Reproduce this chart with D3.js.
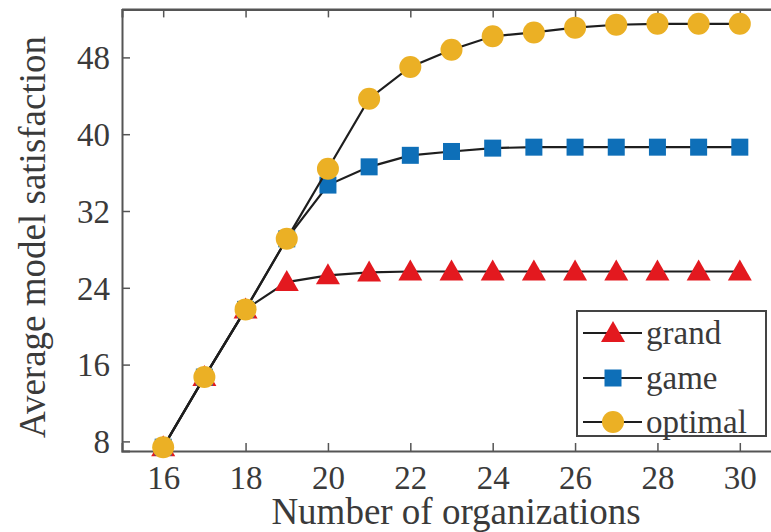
<!DOCTYPE html>
<html><head><meta charset="utf-8">
<script src="https://d3js.org/d3.v7.min.js"></script>
<style>
html,body{margin:0;padding:0;background:#fff;}
svg text{font-family:"Liberation Serif","Tinos","Times New Roman","DejaVu Serif",serif !important;}
</style></head>
<body><svg id="c" width="771" height="532"></svg>
<script>
const xValues = [16,17,18,19,20,21,22,23,24,25,26,27,28,29,30];
const grand   = [7.4,14.7,21.75,24.6,25.3,25.6,25.7,25.7,25.7,25.7,25.7,25.7,25.7,25.7,25.7];
const game    = [7.4,14.7,21.75,29.1,34.7,36.6,37.8,38.2,38.55,38.65,38.65,38.65,38.65,38.65,38.65];
const optimal = [7.4,14.7,21.75,29.1,36.4,43.7,47.0,48.8,50.2,50.6,51.1,51.4,51.5,51.5,51.5];
const xTicks = [16,18,20,22,24,26,28,30];
const yTicks = [8,16,24,32,40,48];
const seriesNames = ["grand","game","optimal"];
const seriesColors = ["#e3191f","#0e6fb8","#ebb025"];
const seriesShapes = ["triangle","square","circle"];

const FONT = "'Liberation Serif','Tinos','Times New Roman','DejaVu Serif',serif";
const svg = d3.select("#c");
const x = d3.scaleLinear().domain([15,31]).range([122,781]);
const y = d3.scaleLinear().domain([7,53]).range([451,9.4]);
const axisColor = "#555";
const textColor = "#3a3a3a";

svg.append("line").attr("x1",x(15)).attr("x2",x(31)).attr("y1",y(53)).attr("y2",y(53)).attr("stroke",axisColor).attr("stroke-width",2);

const xb = svg.append("g").attr("transform",`translate(0,${y(7)})`)
  .call(d3.axisBottom(x).tickValues(xTicks).tickSize(-8).tickPadding(14).tickFormat(d3.format("d")));
const xt = svg.append("g").attr("transform",`translate(0,${y(53)})`)
  .call(d3.axisTop(x).tickValues(xTicks).tickSize(-8).tickFormat(""));
const yl = svg.append("g").attr("transform",`translate(${x(15)},0)`)
  .call(d3.axisLeft(y).tickValues(yTicks).tickSize(-8).tickPadding(12).tickFormat(d3.format("d")));
[xb,xt,yl].forEach(g=>{
  g.attr("font-family",FONT).attr("font-size",33);
  g.selectAll("path").attr("stroke",axisColor).attr("stroke-width",2);
  g.selectAll("line").attr("stroke",axisColor).attr("stroke-width",1.5);
  g.selectAll("text").attr("fill",textColor).attr("font-family",FONT).attr("font-size",33);
});
xb.selectAll("text").attr("dy","0.74em");
yl.selectAll("text").attr("dy","0.34em");

svg.append("text").attr("x",456).attr("y",524).attr("text-anchor","middle")
  .attr("font-family",FONT).attr("fill",textColor).attr("font-size",37).text("Number of organizations");
svg.append("text").attr("transform",`translate(45,237) rotate(-90)`).attr("text-anchor","middle")
  .attr("font-family",FONT).attr("fill",textColor).attr("font-size",37).text("Average model satisfaction");

function drawMarker(g, shape, cx, cy, color){
  if(shape==="circle") g.append("circle").attr("cx",cx).attr("cy",cy).attr("r",11).attr("fill",color);
  else if(shape==="square") g.append("rect").attr("x",cx-8.5).attr("y",cy-8.5).attr("width",17).attr("height",17).attr("fill",color);
  else g.append("path").attr("d",`M${cx},${cy-12}L${cx+12},${cy+9}L${cx-12},${cy+9}Z`).attr("fill",color);
}

const line = d3.line().x(d=>x(d[0])).y(d=>y(d[1]));
const allSeries = [grand, game, optimal];
allSeries.forEach((vals,i)=>{
  const pts = xValues.map((xv,j)=>[xv,vals[j]]);
  const g = svg.append("g");
  g.append("path").attr("d",line(pts)).attr("fill","none").attr("stroke","#1e1e1e").attr("stroke-width",2.2);
  pts.forEach(p=>drawMarker(g, seriesShapes[i], x(p[0]), y(p[1]), seriesColors[i]));
});

const lg = svg.append("g");
lg.append("rect").attr("x",577).attr("y",311).attr("width",189).attr("height",125)
  .attr("fill","#fff").attr("stroke","#444").attr("stroke-width",2);
const rowsY = [333,378,422];
seriesNames.forEach((n,i)=>{
  const ry = rowsY[i];
  lg.append("line").attr("x1",583).attr("x2",642).attr("y1",ry).attr("y2",ry).attr("stroke","#1e1e1e").attr("stroke-width",2.2);
  drawMarker(lg, seriesShapes[i], 613, ry, seriesColors[i]);
  lg.append("text").attr("x",646).attr("y",ry+11).attr("font-family",FONT).attr("fill",textColor).attr("font-size",33).text(n);
});
</script></body></html>
